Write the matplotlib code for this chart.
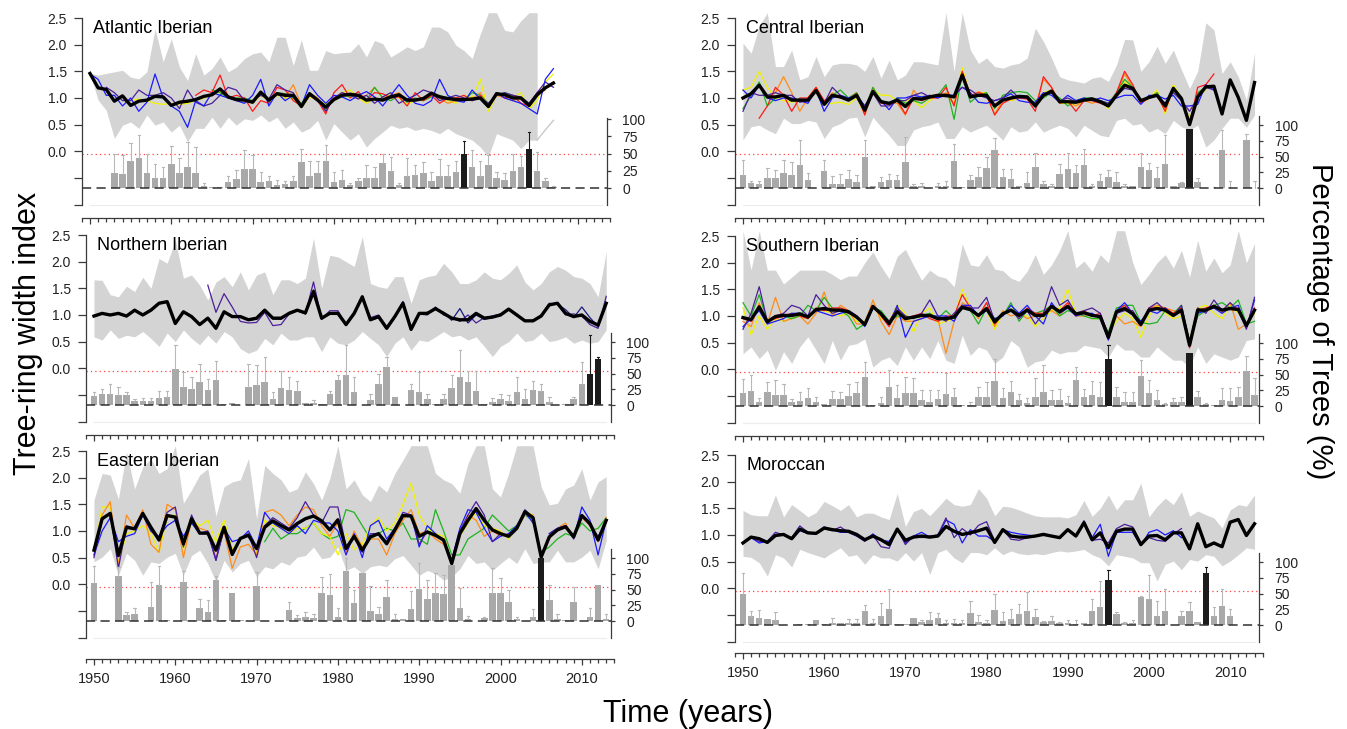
import numpy as np
import matplotlib
matplotlib.use("Agg")
import matplotlib.pyplot as plt

plt.rcParams['font.family'] = ['Liberation Sans', 'DejaVu Sans']

years = list(range(1950, 2014))
atl_years = list(range(1950, 2008))
atl_band_years = list(range(1950, 2006))

# ---------------- Atlantic Iberian ----------------
atl_mean = [1.46, 1.19, 1.16, 0.94, 1.04, 0.86, 0.94, 0.96, 1.03, 1.02,
            0.86, 0.92, 0.94, 0.97, 1.03, 1.06, 1.17, 1.02, 0.97, 0.96,
            0.92, 1.11, 0.96, 1.08, 1.05, 1.05, 0.84, 1.08, 0.96, 0.83,
            0.97, 1.05, 1.07, 1.05, 0.96, 0.98, 0.96, 1.02, 1.06, 0.96,
            0.96, 0.99, 1.09, 1.02, 0.99, 0.97, 0.97, 0.98, 1.00, 0.84,
            1.08, 1.06, 1.00, 1.00, 0.86, 1.06, 1.19, 1.28]
atl_hi = [1.46, 1.43, 1.46, 1.49, 1.52, 1.39, 1.36, 1.49, 2.30, 1.68,
          2.11, 1.58, 1.33, 1.83, 1.43, 1.55, 1.77, 1.49, 1.58, 1.74,
          1.83, 1.86, 1.68, 2.14, 2.14, 1.61, 2.09, 1.52, 1.52, 1.89,
          1.83, 1.85, 1.86, 2.02, 1.77, 2.08, 2.02, 1.77, 1.86, 1.96,
          1.89, 1.96, 2.33, 2.33, 2.24, 1.99, 1.89, 1.74, 2.20, 2.60,
          2.60, 2.27, 2.24, 2.45, 2.60, 2.60]
atl_lo = [1.46, 0.96, 0.77, 0.24, 0.49, 0.55, 0.43, 0.68, 0.49, 0.55,
          0.36, 0.49, 0.18, 0.43, 0.43, 0.64, 0.43, 0.64, 0.49, 0.61,
          0.58, 0.68, 0.55, 0.64, 0.43, 0.55, 0.36, 0.43, 0.58, 0.21,
          0.52, 0.36, 0.21, 0.33, 0.08, 0.24, 0.36, 0.49, 0.43, 0.46,
          0.39, 0.43, 0.39, 0.33, 0.43, 0.33, 0.27, 0.21, 0.08, -0.10,
          0.33, 0.27, 0.21, 0.05, 0.21, 0.21]
atl_pct = [0, 0, 0, 22, 20, 39, 44, 22, 14, 15,
           35, 22, 31, 22, 3, 1, 1, 9, 13, 27,
           27, 9, 10, 4, 6, 10, 38, 17, 22, 39,
           9, 11, 5, 10, 14, 15, 36, 25, 5, 18,
           19, 22, 10, 17, 17, 23, 50, 30, 18, 34,
           14, 12, 25, 30, 57, 25, 10, 2]
atl_pct_hi = [0, 0, 0, 50, 48, 65, 77, 50, 35, 31,
              61, 43, 67, 60, 7, 2, 2, 17, 26, 55,
              48, 23, 18, 11, 10, 18, 57, 40, 40, 62,
              23, 26, 8, 15, 33, 30, 50, 45, 8, 44,
              33, 38, 24, 42, 33, 40, 68, 55, 40, 48,
              24, 22, 50, 47, 82, 52, 15, 3]
atl_black = [1996, 2004]
atl_blue = [1.45, 1.35, 1.05, 1.05, 0.85, 1.0, 0.75, 0.92, 1.45, 1.0,
            0.85, 0.75, 0.45, 0.95, 0.85, 1.1, 1.05, 1.0, 0.95, 0.9,
            1.05, 1.35, 0.85, 1.1, 0.95, 1.05, 0.85, 1.25, 1.05, 0.9,
            1.05, 1.02, 0.95, 1.05, 1.12, 1.02, 0.85, 1.05, 1.25, 1.05,
            0.9, 0.86, 0.95, 1.35, 1.05, 0.95, 0.92, 1.15, 0.98, 0.82,
            1.1, 1.0, 0.95, 0.9, 0.8, 0.7, 1.35, 1.55]
atl_purple = [None, None, 1.2, 1.1, 0.95, 0.95, 1.15, 1.05, 1.05, 1.1,
              1.0, 0.8, 1.15, 0.92, 0.85, 0.9, 1.05, 1.2, 1.15, 0.95,
              0.95, 1.05, 0.98, 1.25, 1.15, 1.1, 0.85, 1.05, 0.97, 0.75,
              1.0, 1.1, 1.05, 0.98, 1.05, 0.9, 1.02, 1.1, 0.9, 0.98,
              1.05, 1.15, 1.1, 0.95, 1.0, 1.05, 1.0, 0.95, 1.0, 0.9,
              1.05, 1.1, 1.05, 1.02, 0.9, 1.1, 1.3, 1.2]
atl_red = [None] * 13 + [1.05, 1.15, 1.1, 1.43, 1.0, 1.05, 1.0,
                         0.75, 0.95, 0.9, 1.2, 1.15, 0.95, 0.85, 1.05, 0.95, 0.7,
                         1.1, 1.25, 1.0, 1.12, 0.95, 1.1, 1.08, 1.0, 1.02, 0.85,
                         1.1, 0.95, 1.05, 0.9, 1.0, 1.0, 1.05, 0.95, 1.05, 0.85,
                         1.1, 1.0, 1.05, 0.9, 0.85, 1.1, 1.2, 1.3]
atl_yellow = [None] * 4 + [0.95, 0.95, 0.98, 0.95, 0.9, 0.88,
                           0.9, 0.88, 0.9, 0.95, 1.0, 1.05, 1.12, 1.0, 0.98, 0.95,
                           0.9, 1.05, 0.95, 1.05, 1.0, 1.0, 0.82, 1.02, 0.95, 0.88,
                           0.95, 1.1, 1.15, 1.0, 0.9, 1.0, 0.95, 1.1, 1.0, 0.88,
                           0.95, 1.0, 1.05, 1.05, 0.95, 0.9, 1.05, 1.0, 1.35, 0.75,
                           1.05, 1.05, 1.0, 1.1, 0.8, 0.95, 1.3, 1.45]
atl_green = [None] * 15 + [1.15, 1.1, 1.0, 1.0, 1.0,
                           0.95, 1.1, 0.92, 1.1, 1.08, 1.0, 0.9, 1.1, 0.95, 0.78,
                           1.0, 1.05, 1.02, 1.05, 0.95, 1.2, 1.0, 0.95, 1.05, 0.92,
                           1.0, 0.95, 1.02, 1.05, 1.0, 1.0, 0.95, 1.1, 1.05, 0.9,
                           1.05, 1.1, 1.05, 1.0, 0.9, 1.05, None, None]
atl_orange = [None] * 24 + [1.0, 1.25, 0.85, 1.1, 1.0, 0.8,
                            1.0, 1.1, 1.05, 1.0, 1.05, 1.2, 1.0, 1.05, 1.1, 0.95,
                            0.97, 0.95, 1.05, 1.0, 0.9, 0.95, 1.0, 0.98, 1.1, 0.85,
                            1.05, 1.0, 0.95, 1.0, 0.85, 1.05, 1.15, None]
atl_tail = [None] * 55 + [0.21, 0.40, 0.58]

# ---------------- Central Iberian ----------------
cen_mean = [1.00, 1.08, 1.24, 1.02, 1.02, 1.05, 0.96, 0.96, 0.96, 1.14,
            0.88, 1.05, 1.02, 0.96, 1.05, 0.77, 1.12, 0.93, 0.90, 0.96,
            0.84, 0.99, 0.98, 1.02, 1.05, 1.05, 1.02, 1.43, 1.02, 1.05,
            1.05, 0.85, 0.96, 1.00, 1.03, 1.02, 0.85, 1.05, 1.13, 0.93,
            0.93, 0.92, 0.96, 0.98, 0.93, 0.85, 1.05, 1.24, 1.18, 0.95,
            1.01, 1.05, 0.85, 1.18, 0.99, 0.50, 1.02, 1.21, 1.22, 0.70,
            1.34, 1.01, 0.58, 1.29]
cen_hi = [2.03, 1.84, 2.35, 2.60, 1.59, 1.59, 1.90, 1.34, 1.40, 1.78,
          1.40, 1.62, 1.65, 1.65, 1.62, 1.50, 1.78, 1.37, 1.71, 1.34,
          1.43, 1.68, 1.68, 1.65, 1.62, 2.60, 1.50, 2.60, 1.90, 1.65,
          1.75, 1.59, 1.56, 1.62, 1.65, 1.75, 2.31, 2.06, 1.75, 1.40,
          1.34, 1.31, 1.28, 1.37, 1.40, 1.31, 1.62, 2.10, 2.09, 1.50,
          1.68, 1.97, 1.65, 1.90, 1.53, 1.18, 1.50, 2.41, 2.28, 1.46,
          1.68, 1.40, 0.96, 1.84]
cen_lo = [0.21, 0.46, 0.49, 0.40, 0.33, 0.62, 0.52, 0.52, 0.58, 0.55,
          0.24, 0.46, 0.52, 0.62, 0.64, 0.27, 0.64, 0.46, 0.30, 0.11,
          0.11, 0.40, 0.46, 0.49, 0.55, 0.24, 0.24, 0.46, 0.36, 0.43,
          0.49, 0.36, 0.21, 0.46, 0.36, 0.39, 0.55, 0.36, 0.43, 0.49,
          0.43, 0.27, 0.49, 0.39, 0.30, 0.27, 0.58, 0.62, 0.49, 0.52,
          0.36, 0.43, 0.33, 0.58, 0.46, 0.40, 0.49, 0.08, 0.21, 0.43,
          0.62, 0.62, 0.45, 0.68]
cen_pct = [20, 8, 6, 16, 16, 24, 21, 37, 13, 0,
           27, 7, 7, 15, 10, 50, 3, 10, 13, 13,
           41, 4, 4, 0, 3, 4, 43, 2, 13, 18,
           32, 61, 18, 14, 3, 8, 33, 6, 4, 22,
           30, 24, 37, 4, 12, 17, 10, 4, 4, 33,
           28, 16, 38, 3, 8, 94, 10, 0, 0, 60,
           0, 0, 77, 0]
cen_pct_hi = [44, 12, 11, 32, 28, 45, 41, 76, 24, 0,
              44, 19, 23, 28, 20, 76, 3, 17, 23, 20,
              81, 6, 8, 0, 8, 12, 70, 2, 20, 34,
              49, 80, 31, 30, 3, 25, 55, 12, 6, 39,
              55, 36, 62, 6, 23, 28, 25, 6, 4, 55,
              40, 33, 84, 3, 10, 94, 16, 0, 2, 92,
              12, 0, 86, 12]
cen_black = [2005]
cen_yellow = [1.15, 1.2, 1.5, 1.2, 1.0, 0.95, 0.92, 0.95, 0.95, 1.2,
              0.88, 0.9, 0.92, 0.88, 1.0, 0.7, 1.15, 1.05, 1.05, 0.95,
              0.95, 0.95, 0.82, 0.95, 1.05, 1.05, 0.9, 1.57, 1.05, 1.1,
              1.1, 0.8, 1.0, 0.95, 1.0, 1.0, 0.85, 1.1, 1.15, 0.9,
              0.9, 0.85, 0.95, 1.0, 0.95, 0.8, 1.1, 1.3, 1.2, 0.9,
              1.0, 1.15, 0.7, 1.25, 1.0, 0.6, 1.05, 1.15, None, None,
              None, None, None, None]
cen_red = [None, None, 0.62, 0.85, 1.2, 1.05, 0.75, 1.0, 1.0, 1.2,
           0.95, 1.05, 1.0, 0.98, 1.08, 0.68, 1.15, 0.9, 0.88, 0.95,
           0.7, 1.0, 0.95, 1.0, 1.0, 1.2, 0.85, 1.5, 1.05, 1.1,
           1.05, 0.68, 0.9, 0.98, 1.0, 0.98, 0.75, 1.4, 1.2, 0.9,
           0.95, 0.75, 0.95, 0.95, 0.9, 0.85, 1.1, 1.5, 1.25, 0.9,
           1.0, 1.05, 0.75, 1.2, 1.0, 0.5, 1.2, 1.25, 1.45, None,
           None, None, None, None]
cen_green = [0.8, 1.05, 1.3, 0.85, 1.0, 1.05, 0.95, 0.98, 0.95, 1.15,
             0.92, 1.05, 1.15, 1.0, 1.1, 0.8, 1.2, 0.95, 0.9, 1.0,
             0.9, 0.95, 0.9, 1.0, 1.05, 1.25, 0.6, 1.45, 0.92, 1.05,
             1.1, 0.8, 1.05, 1.1, 1.12, 1.1, 0.95, 1.0, 1.1, 1.0,
             0.85, 0.95, 1.0, 1.0, 0.95, 0.9, 1.1, 1.35, 1.2, 0.95,
             1.0, 1.1, 0.85, 1.2, 0.95, 0.55, 1.1, 1.2, None, None,
             None, None, None, None]
cen_blue = [1.15, 1.0, 1.25, 1.0, 0.95, 1.0, 1.0, 0.95, 0.9, 1.15,
            0.75, 1.0, 1.05, 1.0, 1.05, 0.85, 1.1, 0.95, 0.78, 1.0,
            1.0, 1.05, 1.02, 1.05, 1.0, 1.05, 1.05, 1.2, 1.1, 0.92,
            0.9, 0.95, 1.0, 1.08, 0.95, 0.92, 0.92, 1.1, 1.05, 0.92,
            1.05, 0.95, 1.0, 0.95, 1.0, 0.95, 1.0, 1.05, 1.05, 0.88,
            1.05, 1.05, 0.98, 1.05, 0.85, 0.85, 0.88, 1.25, 1.15, None,
            None, None, None, None]
cen_purple = [0.75, 1.1, 1.05, 1.05, 1.1, 1.05, 1.05, 0.92, 0.95, 1.15,
              0.9, 1.2, 1.05, 0.98, 1.05, 0.85, 1.1, 0.85, 0.85, 0.95,
              0.95, 1.05, 1.1, 1.02, 1.05, 1.02, 1.05, 1.2, 1.15, 1.05,
              1.0, 0.95, 1.0, 1.15, 1.0, 1.0, 0.9, 1.05, 1.1, 0.95,
              1.0, 0.92, 0.98, 1.0, 0.95, 0.9, 1.05, 1.18, 1.15, 0.95,
              1.0, 1.05, 0.9, 1.1, 0.95, 0.75, 1.0, 1.2, 1.15, None,
              None, None, None, None]
cen_orange = [None, None, None, 1.0, 1.1, 1.4, 1.1, 0.75, 1.0, 1.2,
              0.9, 1.1, 1.0, 0.95, 1.1, 0.72, 1.2, 0.92, 0.9, 0.9,
              0.68, 1.15, 0.95, 1.05, 1.0, 1.1, 0.88, 1.5, 1.0, 1.12,
              1.05, 0.7, 0.95, 1.0, 1.0, 1.0, 0.85, 1.35, 1.2, 0.92,
              0.95, 0.85, 0.95, 0.9, 0.95, 0.85, 1.05, 1.45, 1.2, 0.9,
              1.0, 1.1, 0.8, 1.15, 1.0, 0.55, 1.1, 1.2, None, None,
              None, None, None, None]

# ---------------- Northern Iberian ----------------
nor_mean = [0.98, 1.03, 1.00, 1.03, 0.98, 1.09, 1.00, 1.09, 1.22, 1.25,
            0.84, 1.06, 0.97, 0.82, 0.94, 0.75, 1.06, 0.97, 0.97, 0.91,
            0.94, 1.09, 0.94, 0.94, 1.03, 1.09, 1.04, 1.44, 0.94, 1.03,
            1.03, 0.82, 1.03, 1.34, 0.91, 0.97, 0.75, 0.97, 1.22, 0.73,
            1.03, 1.03, 1.12, 1.03, 0.94, 0.91, 0.91, 1.03, 0.94, 0.96,
            1.00, 1.11, 1.00, 0.89, 0.89, 0.98, 1.19, 1.22, 1.03, 0.97,
            1.00, 0.88, 0.81, 1.22]
nor_hi = [1.66, 1.65, 1.38, 1.34, 1.54, 1.44, 1.71, 1.50, 2.06, 1.97,
          2.40, 1.69, 1.75, 1.56, 1.28, 1.62, 1.72, 1.53, 1.81, 1.47,
          1.75, 1.81, 1.38, 1.66, 1.66, 1.59, 1.69, 2.44, 1.50, 2.12,
          2.09, 2.00, 1.91, 2.47, 1.59, 1.53, 1.50, 1.72, 1.72, 1.22,
          1.66, 1.72, 1.75, 1.97, 1.81, 1.59, 1.59, 1.66, 1.81, 1.69,
          1.66, 1.78, 1.94, 1.62, 1.47, 1.59, 1.81, 1.91, 1.84, 1.72,
          1.69, 1.59, 1.34, 2.19]
nor_lo = [0.59, 0.53, 0.72, 0.56, 0.62, 0.59, 0.69, 0.56, 0.41, 0.66,
          0.50, 0.72, 0.56, 0.44, 0.62, 0.47, 0.69, 0.59, 0.37, 0.28,
          0.34, 0.56, 0.44, 0.66, 0.53, 0.53, 0.59, 0.59, 0.31, 0.59,
          0.47, 0.44, 0.53, 0.69, 0.56, 0.44, 0.22, 0.47, 0.59, 0.34,
          0.53, 0.50, 0.59, 0.69, 0.59, 0.62, 0.53, 0.59, 0.41, 0.22,
          0.41, 0.50, 0.66, 0.50, 0.53, 0.66, 0.50, 0.53, 0.59, 0.47,
          0.53, 0.47, 0.50, 0.72]
nor_pct = [15, 17, 17, 16, 16, 7, 7, 7, 12, 13,
           57, 29, 26, 36, 24, 40, 2, 3, 0, 28,
           32, 36, 10, 27, 24, 22, 3, 3, 1, 18,
           40, 47, 21, 0, 8, 33, 60, 13, 0, 24,
           21, 9, 1, 9, 27, 45, 37, 22, 2, 5,
           9, 6, 20, 9, 24, 22, 5, 0, 1, 9,
           33, 49, 74, 0]
nor_pct_hi = [20, 26, 34, 28, 21, 9, 11, 12, 22, 23,
              95, 52, 45, 65, 41, 70, 2, 3, 0, 65,
              64, 77, 20, 54, 44, 39, 3, 8, 1, 23,
              47, 95, 44, 0, 18, 49, 76, 13, 0, 33,
              52, 18, 1, 18, 47, 87, 54, 54, 2, 12,
              17, 16, 45, 26, 38, 34, 13, 0, 2, 13,
              69, 112, 77, 0]
nor_black = [2011, 2012]
nor_navy = [0.97, 1.02, 1.0, 1.02, 0.97, 1.08, 0.99, 1.08, 1.21, 1.24,
            0.85, 1.05, 0.96, 0.83, 0.93, 0.74, 1.05, 0.96, 0.98, 0.9,
            0.92, 1.1, 0.93, 0.92, 1.05, 1.1, 1.02, 1.47, 0.92, 1.03,
            1.05, 0.8, 1.02, 1.36, 0.9, 0.95, 0.74, 0.96, 1.25, 0.72,
            1.02, 1.05, 1.1, 1.05, 0.9, 1.12, 0.85, 1.0, 0.92, 0.95,
            1.0, 1.12, 1.02, 0.88, 0.9, 0.98, 1.2, 1.2, 1.1, 0.95,
            1.15, 0.95, 0.78, 1.2]
nor_purple = [None] * 14 + [1.56, 1.05, 1.4, 1.15, 0.88, 0.85,
                            0.86, 1.05, 0.8, 0.82, 1.02, 1.08, 1.02, 1.62, 0.92, 1.08,
                            1.08, 0.82, 1.05, 1.3, 0.95, 1.0, 0.78, 0.98, 1.25, 0.75,
                            1.02, 1.0, 1.15, 1.0, 0.95, 0.88, 1.0, 0.85, 0.95, 0.98,
                            1.02, 1.1, 1.0, 0.88, 0.9, 1.0, 1.22, 1.2, 1.0, 1.02,
                            0.98, 0.82, 0.75, 1.35]

# ---------------- Southern Iberian ----------------
sou_mean = [0.97, 0.93, 1.17, 0.89, 0.99, 1.01, 1.01, 1.04, 0.98, 1.12,
            1.14, 1.11, 1.11, 1.08, 0.98, 0.84, 1.18, 1.04, 0.86, 1.08,
            0.95, 0.98, 1.01, 1.01, 0.95, 0.95, 0.98, 1.16, 1.12, 1.01,
            1.14, 0.89, 1.04, 1.11, 1.01, 1.11, 1.01, 1.01, 1.18, 1.08,
            1.18, 1.04, 1.06, 1.01, 0.99, 0.60, 1.08, 1.14, 1.04, 0.84,
            1.11, 1.14, 1.11, 1.01, 1.11, 0.45, 1.11, 1.11, 1.18, 1.11,
            1.14, 1.12, 0.82, 1.11]
sou_hi = [2.60, 1.86, 2.60, 1.86, 1.86, 1.60, 1.73, 1.86, 1.86, 1.86,
          1.86, 1.78, 1.68, 1.75, 1.75, 2.00, 2.20, 1.93, 1.70, 2.12,
          2.25, 1.95, 1.67, 1.86, 1.75, 1.71, 1.55, 2.35, 1.96, 1.93,
          2.15, 1.88, 1.85, 1.71, 1.65, 1.84, 2.15, 1.78, 1.96, 2.23,
          2.60, 1.90, 2.03, 1.84, 2.15, 2.00, 2.60, 2.60, 2.00, 1.59,
          1.78, 2.00, 2.15, 1.90, 2.23, 1.73, 2.42, 1.84, 2.09, 1.81,
          1.96, 2.60, 2.00, 2.36]
sou_lo = [0.29, 0.42, 0.20, 0.36, -0.02, 0.33, 0.11, 0.42, 0.61, 0.36,
          0.11, 0.54, 0.17, 0.45, 0.48, 0.57, 0.04, 0.17, 0.23, 0.07,
          0.42, 0.17, 0.42, 0.20, 0.54, 0.17, 0.11, 0.64, 0.26, 0.42,
          0.36, 0.11, 0.23, 0.54, 0.42, 0.04, 0.14, 0.17, 0.36, 0.29,
          0.33, 0.33, 0.45, 0.42, 0.39, 0.23, 0.48, 0.36, 0.36, 0.23,
          0.23, 0.42, 0.29, 0.17, 0.17, 0.04, 0.42, 0.11, 0.29, 0.23,
          0.17, 0.23, 0.54, 0.57]
sou_pct = [21, 24, 6, 22, 18, 18, 6, 8, 13, 7,
           3, 12, 11, 16, 20, 46, 1, 5, 30, 13,
           20, 20, 9, 7, 11, 19, 14, 1, 2, 15,
           15, 40, 13, 22, 9, 5, 15, 23, 9, 9,
           5, 41, 14, 18, 14, 75, 14, 7, 7, 47,
           20, 10, 3, 7, 6, 84, 14, 3, 1, 10,
           8, 14, 55, 18]
sou_pct_hi = [43, 49, 13, 39, 42, 35, 11, 22, 29, 15,
              3, 24, 23, 35, 39, 70, 1, 14, 58, 34,
              46, 44, 26, 26, 26, 52, 28, 1, 6, 31,
              39, 75, 29, 40, 19, 13, 44, 66, 26, 27,
              16, 62, 27, 40, 38, 97, 31, 22, 22, 74,
              42, 26, 5, 13, 14, 84, 24, 5, 1, 29,
              29, 30, 80, 44]
sou_black = [1995, 2005]
sou_yellow = [1.15, 0.65, 1.0, 0.75, 0.95, 0.9, 0.95, 1.0, 0.95, 1.1,
              1.1, 1.05, 1.0, 1.05, 0.9, 0.9, 1.2, 0.95, 0.9, 1.2,
              1.05, 0.7, 1.05, 1.15, 0.85, 0.9, 0.95, 1.5, 1.15, 1.0,
              1.1, 0.75, 1.05, 1.2, 1.0, 1.0, 0.8, 0.95, 1.1, 1.15,
              1.5, 1.05, 1.1, 0.95, 0.95, 0.7, 0.9, 1.05, 0.95, 0.6,
              1.0, 1.2, 1.05, 0.95, 1.0, 0.55, 1.15, 1.2, 1.05, 0.95,
              1.2, 1.05, 0.85, 1.05]
sou_orange = [0.9, 0.8, 1.25, 0.85, 1.35, 0.9, 0.95, 1.0, 0.85, 1.05,
              1.45, 1.0, 1.2, 1.1, 0.85, 0.85, 1.3, 0.9, 0.65, 1.0,
              0.9, 0.9, 0.95, 1.05, 0.95, 0.3, 0.9, 1.25, 1.15, 0.95,
              1.25, 0.8, 1.1, 1.0, 1.05, 0.95, 1.0, 1.05, 1.1, 1.0,
              1.2, 1.0, 1.0, 1.05, 0.95, 0.65, 1.0, 0.85, 0.9, 0.8,
              1.15, 1.2, 1.15, 1.1, 1.05, 0.5, 1.15, 1.1, 1.2, 1.05,
              1.25, 0.75, 0.85, 1.1]
sou_red = [0.95, 0.9, 1.2, 0.9, 0.95, 1.0, 1.05, 1.0, 0.95, 1.15,
           1.1, 1.15, 1.15, 1.1, 1.0, 0.85, 1.2, 1.0, 0.8, 1.1,
           0.95, 1.0, 1.05, 0.95, 0.9, 1.0, 1.0, 1.4, 1.15, 1.0,
           1.25, 0.85, 1.05, 1.1, 1.0, 1.15, 1.05, 1.05, 1.2, 1.1,
           1.25, 1.0, 1.1, 1.0, 1.05, 0.55, 1.1, 1.2, 1.05, 0.85,
           1.15, 1.15, 1.15, 1.05, 1.15, 0.4, 1.1, 1.15, 1.2, 1.1,
           1.15, 1.15, 0.8, 1.15]
sou_green = [1.25, 1.0, 1.4, 0.9, 1.0, 1.0, 0.95, 1.0, 1.2, 1.1,
             1.35, 1.15, 1.1, 1.0, 0.75, 0.85, 1.15, 1.1, 0.9, 1.0,
             1.0, 0.95, 1.0, 1.05, 0.95, 1.1, 0.95, 1.15, 1.1, 0.85,
             1.15, 0.95, 1.0, 1.25, 0.9, 1.1, 1.05, 1.1, 1.2, 1.0,
             1.1, 1.05, 1.0, 0.95, 0.95, 0.7, 1.15, 1.2, 1.2, 0.88,
             0.85, 0.88, 1.1, 1.05, 1.2, 0.5, 1.0, 1.1, 1.2, 1.25,
             1.15, 1.3, 0.85, 0.9]
sou_blue = [0.8, 0.95, 1.1, 0.85, 0.9, 0.95, 1.05, 1.05, 1.0, 1.1,
            1.05, 1.0, 1.05, 1.1, 1.0, 0.8, 1.15, 1.05, 0.85, 1.2,
            0.6, 0.9, 0.95, 1.0, 1.0, 1.0, 0.9, 1.2, 1.2, 1.0,
            1.1, 0.95, 1.0, 1.2, 1.05, 1.2, 1.0, 0.85, 1.25, 1.05,
            1.15, 1.0, 1.05, 1.05, 0.95, 0.55, 1.1, 1.25, 1.05, 0.9,
            1.1, 1.05, 1.15, 1.0, 1.1, 0.45, 1.05, 1.1, 1.15, 1.05,
            1.15, 1.2, 0.78, 1.3]
sou_purple = [0.75, 1.05, 1.55, 0.9, 1.0, 1.05, 1.2, 1.15, 1.0, 1.4,
              1.2, 1.05, 1.1, 1.05, 1.0, 0.85, 1.15, 1.05, 0.9, 1.15,
              1.0, 0.95, 1.05, 1.3, 1.0, 0.9, 1.05, 1.2, 1.15, 1.15,
              1.35, 0.9, 1.05, 1.1, 0.95, 1.1, 0.85, 1.05, 1.55, 1.2,
              1.3, 1.05, 1.1, 1.15, 1.05, 0.65, 1.05, 1.1, 1.1, 0.85,
              1.15, 1.25, 1.1, 1.0, 1.2, 0.5, 1.15, 1.05, 1.3, 1.1,
              1.25, 1.1, 0.75, 1.35]

# ---------------- Eastern Iberian ----------------
eas_mean = [0.64, 1.23, 1.33, 0.54, 1.07, 1.04, 1.33, 1.07, 0.83, 1.29,
            1.26, 0.76, 1.23, 0.96, 0.96, 0.64, 1.07, 0.56, 0.86, 0.92,
            0.67, 1.07, 1.19, 1.10, 1.02, 1.14, 1.23, 1.28, 1.19, 1.02,
            1.21, 0.67, 0.90, 0.64, 0.89, 0.95, 0.76, 1.02, 1.29, 1.28,
            0.90, 0.98, 0.92, 0.83, 0.39, 0.95, 1.20, 1.42, 1.20, 1.02,
            0.95, 0.90, 1.05, 1.36, 1.25, 0.51, 0.89, 1.02, 1.08, 0.89,
            1.29, 1.14, 0.83, 1.20]
eas_hi = [1.58, 2.08, 2.05, 1.60, 2.48, 1.79, 2.20, 2.36, 2.08, 2.17,
          2.60, 1.52, 1.77, 2.05, 2.17, 1.28, 1.83, 1.92, 1.96, 2.36,
          1.23, 2.23, 2.08, 1.96, 1.73, 1.79, 2.11, 1.89, 1.58, 1.98,
          2.60, 1.79, 1.96, 1.68, 1.55, 1.86, 1.73, 2.08, 2.33, 2.60,
          2.60, 2.60, 2.08, 1.96, 1.89, 1.71, 2.27, 2.60, 2.60, 1.79,
          1.64, 2.08, 2.60, 2.60, 2.60, 1.83, 1.49, 1.52, 1.79, 1.86,
          2.17, 1.58, 1.92, 2.02]
eas_lo = [0.42, 0.51, 0.67, 0.17, 0.58, 0.45, 0.17, 0.42, 0.39, 0.51,
          0.58, 0.17, 0.54, 0.64, 0.39, 0.04, 0.45, 0.23, 0.39, 0.45,
          0.14, 0.33, 0.29, 0.42, 0.36, 0.51, 0.54, 0.70, 0.48, 0.51,
          0.70, 0.26, 0.33, 0.20, 0.33, 0.36, 0.33, 0.48, 0.54, 0.36,
          0.17, 0.26, 0.20, 0.08, 0.14, 0.29, 0.54, 0.39, 0.42, 0.26,
          0.39, 0.51, 0.39, 0.67, 0.39, 0.42, 0.42, 0.64, 0.42, 0.42,
          0.51, 0.64, 0.29, 0.82]
eas_pct = [61, 0, 0, 72, 9, 12, 0, 23, 58, 1,
           0, 62, 2, 20, 14, 66, 1, 44, 1, 0,
           55, 0, 0, 0, 18, 5, 6, 5, 45, 42,
           7, 79, 28, 77, 16, 12, 39, 3, 3, 19,
           51, 35, 44, 43, 89, 20, 3, 0, 5, 44,
           45, 31, 3, 0, 7, 100, 33, 4, 2, 31,
           0, 7, 57, 4]
eas_pct_hi = [88, 0, 0, 86, 14, 20, 0, 62, 88, 1,
              0, 80, 2, 35, 34, 72, 1, 44, 1, 0,
              78, 0, 0, 0, 30, 10, 14, 12, 70, 75,
              20, 100, 50, 77, 55, 23, 65, 12, 3, 47,
              92, 66, 77, 73, 89, 52, 8, 0, 6, 84,
              68, 49, 6, 0, 19, 100, 57, 12, 2, 54,
              0, 20, 57, 12]
eas_black = [2005]
eas_orange = [0.55, 1.3, 1.55, 0.35, 1.3, 1.05, 1.4, 0.75, 0.6, 1.5,
              1.4, 0.5, 1.2, 1.05, 1.0, 0.5, 1.0, 0.3, 0.7, 0.75,
              0.55, 1.35, 1.4, 1.3, 1.1, 1.3, 1.45, 1.4, 1.1, 0.9,
              1.15, 0.6, 1.0, 0.7, 0.85, 0.85, 0.55, 0.95, 1.2, 1.4,
              0.95, 1.0, 0.85, 0.75, 0.45, 0.9, 1.3, 1.2, 0.9, 1.0,
              0.9, 0.95, 1.05, 1.3, 1.3, None, 0.85, 1.05, 1.15, 0.85,
              1.25, 1.1, 0.8, 1.25]
eas_yellow = [0.6, 1.45, 1.45, 0.4, 0.95, 1.0, 1.1, 0.95, 0.6, 1.25,
              1.3, 0.65, 1.2, 1.1, 1.2, 0.8, 1.2, 0.65, 0.85, 0.95,
              0.6, 1.2, 1.1, 1.05, 0.95, 1.05, 1.05, 1.15, 0.95, 0.9,
              0.55, 0.95, 0.65, 0.75, 1.1, 1.25, 1.0, 1.15, 1.5, 1.9,
              1.3, 1.05, 0.95, 0.9, 0.45, 0.9, 1.15, 1.35, 1.1, 1.05,
              1.0, 0.85, 1.1, 1.35, 1.3] + [None] * 9
eas_blue = [0.55, 1.0, 1.25, 0.8, 0.9, 0.95, 1.3, 1.0, 0.9, 1.1,
            1.2, 0.9, 1.15, 0.95, 1.0, 0.45, 1.05, 0.8, 0.85, 1.0,
            0.7, 1.35, 1.15, 1.05, 0.95, 1.1, 0.95, 1.2, 1.15, 1.15,
            1.0, 0.55, 0.95, 0.5, 1.1, 1.2, 0.85, 1.05, 1.3, 1.3,
            0.7, 1.1, 0.95, 0.8, 0.45, 1.05, 1.4, 1.35, 1.05, 0.8,
            0.9, 0.95, 1.1, 1.35, 1.15, None, 0.95, 1.05, 1.1, 0.85,
            1.45, 1.2, 0.55, 1.2]
eas_purple = [0.5, 1.2, 1.35, 0.3, 1.1, 1.05, 1.35, 1.0, 0.85, 1.35,
              1.45, 0.7, 1.3, 0.95, 0.95, 0.45, 1.05, 0.55, 0.85, 0.95,
              0.5, 1.1, 1.25, 1.15, 1.05, 1.25, 1.55, 1.3, 1.15, 1.45,
              1.45, 0.7, 0.9, 0.6, 0.95, 0.95, 0.8, 1.05, 1.35, 1.3,
              0.75, 1.0, 0.9, 0.85, 0.45, 1.0, 1.3, 1.55, 1.3, 0.8,
              0.95, 0.9, 1.05, 1.4, 1.25, None, 0.95, 1.05, 1.1, 0.9,
              1.3, 1.1, 0.9, 1.15]
eas_green = [None] * 21 + [0.8, 1.05, 0.85, 0.95, 0.95, 1.05, 1.15, 0.95, 0.85,
                           0.9, 1.4, 1.35, 1.1, 0.85, 0.95, 1.05, 1.0, 1.15, 0.85,
                           0.85, 0.75, 1.4, 1.0, 0.55, 0.55, 0.85, 0.95, 1.05, 1.3,
                           1.15, 1.0, 1.1, 1.3, 1.2, 0.6, 0.7, 0.85, 0.95, 0.9,
                           1.15, 1.0, 1.05, 1.25]

# ---------------- Moroccan ----------------
mor_mean = [0.85, 0.96, 0.93, 0.86, 0.99, 1.01, 0.93, 1.11, 1.04, 1.03,
            1.13, 1.10, 1.08, 1.07, 1.01, 0.91, 0.98, 0.91, 0.82, 1.11,
            0.90, 0.96, 0.98, 0.96, 0.98, 1.16, 1.07, 1.01, 1.04, 1.08,
            1.13, 0.86, 1.10, 0.98, 0.96, 0.96, 0.98, 1.01, 0.98, 0.95,
            1.10, 0.98, 1.23, 0.91, 1.04, 0.76, 1.07, 1.11, 1.11, 0.82,
            0.98, 0.99, 0.91, 1.04, 1.04, 0.74, 1.21, 0.78, 0.85, 0.78,
            1.24, 1.29, 0.99, 1.21]
mor_hi = [1.46, 1.38, 1.36, 1.36, 1.75, 1.34, 1.57, 1.46, 1.34, 1.42,
          1.63, 1.55, 1.46, 1.57, 1.34, 1.41, 1.41, 1.34, 1.29, 1.78,
          1.16, 1.44, 1.50, 1.36, 1.52, 1.69, 1.57, 1.54, 1.57, 1.87,
          1.69, 1.36, 1.54, 1.52, 1.47, 1.41, 1.36, 1.34, 1.34, 1.34,
          1.32, 1.38, 1.65, 1.35, 1.50, 1.75, 1.47, 1.66, 1.66, 1.97,
          1.34, 1.54, 1.69, 1.57, 1.81, 1.35, 1.45, 1.38, 1.32, 1.13,
          1.47, 1.57, 1.54, 1.75]
mor_lo = [0.60, 0.58, 0.48, 0.23, 0.63, 0.57, 0.40, 0.73, 0.67, 0.62,
          0.57, 0.67, 0.76, 0.60, 0.63, 0.45, 0.63, 0.57, 0.57, 0.51,
          0.67, 0.51, 0.67, 0.26, 0.67, 0.73, 0.57, 0.48, 0.67, 0.67,
          0.63, 0.76, 0.63, 0.70, 0.65, 0.63, 0.65, 0.63, 0.67, 0.70,
          0.68, 0.70, 0.73, 0.63, 0.57, 0.42, 0.63, 0.60, 0.57, 0.48,
          0.48, 0.14, 0.45, 0.51, 0.35, 0.54, 0.51, 0.63, 0.60, 0.42,
          0.51, 0.63, 0.76, 0.73]
mor_pct = [50, 14, 11, 9, 8, 0, 0, 1, 1, 8,
           1, 4, 4, 3, 3, 23, 3, 15, 26, 1,
           1, 11, 5, 8, 11, 4, 3, 4, 19, 5,
           3, 24, 7, 10, 17, 22, 13, 5, 7, 4,
           3, 2, 3, 23, 28, 72, 18, 3, 3, 44,
           41, 15, 22, 0, 14, 22, 5, 82, 15, 30,
           15, 0, 0, 0]
mor_pct_hi = [82, 22, 24, 9, 20, 0, 0, 1, 1, 8,
              1, 11, 4, 9, 9, 32, 9, 35, 58, 1,
              1, 11, 8, 20, 19, 8, 9, 8, 39, 16,
              8, 49, 20, 26, 33, 53, 25, 7, 15, 5,
              8, 8, 4, 42, 70, 88, 20, 5, 8, 46,
              80, 38, 57, 0, 22, 37, 5, 93, 28, 57,
              25, 0, 0, 0]
mor_black = [1995, 2007]
mor_purple = [0.85, 0.95, 0.88, 0.88, 1.05, 1.0, 0.95, 1.17, 1.05, 1.02,
              1.12, 1.08, 1.15, 1.05, 0.98, 0.88, 1.0, 0.78, 0.75, 1.12,
              0.82, 0.98, 0.95, 0.98, 1.0, 1.32, 0.95, 1.12, 1.0, 1.18,
              1.25, 0.88, 1.1, 0.92, 0.9, 0.95, 0.98, 1.02, 0.98, 0.95,
              1.1, 0.98, 1.27, 0.9, 0.92, 0.85, 1.12, 1.2, 1.15, 0.85,
              0.95, 0.9, 0.88, 1.02, 1.12] + [None] * 9
mor_blue = [0.85, 0.95, 0.85, 0.88, 1.0, 1.02, 0.92, 1.08, 1.03, 1.02,
            1.15, 1.1, 1.05, 1.05, 0.98, 0.9, 1.02, 0.9, 0.88, 1.1,
            0.85, 0.98, 1.05, 0.96, 0.98, 1.28, 1.2, 0.85, 1.1, 0.98,
            0.98, 0.88, 1.1, 1.05, 1.02, 1.0, 0.98, 1.03, 0.98, 0.95,
            1.1, 0.98, 1.25, 0.95, 1.2, 0.6, 1.05, 1.05, 1.05, 0.8,
            1.05, 1.1, 1.0, 1.08, 0.95] + [None] * 9

# ---------------- styling ----------------
BLUE = '#1a1aff'
PURPLE = '#4b1f9a'
NAVY = '#1b1b80'
RED = '#ff1a1a'
YELLOW = '#f2f200'
GREEN = '#1fb41f'
ORANGE = '#ff8c1a'
BAND = '#d4d4d4'
BAR = '#a9a9a9'
WHISK = '#b8b8b8'
AXC = '#3a3a3a'

W, H = 1347, 729
YMIN, YMAX = -1.5, 2.6
PX_UNIT = 53.3
P0 = -0.69   # left-axis value of 0 %


def rect(x0, top, w):
    h = (YMAX - YMIN) * PX_UNIT
    return [x0 / W, 1 - (top + h) / H, w / W, h / H]


def draw_panel(fig, r, title, yrs, mean, band_yrs, hi, lo, pct, pct_hi,
               black, lines, xaxis_at, pscale, ptop, show_years):
    ax = fig.add_axes(r)
    ax.patch.set_visible(False)
    ax.set_xlim(1948.6, 2014.4)
    ax.set_ylim(YMIN, YMAX)

    ax.fill_between(band_yrs, lo, hi, color=BAND, lw=0, zorder=1)
    ax.plot([1950, 2013], [-1.0, -1.0], color='#ececec', lw=0.8, zorder=0)
    ax.plot([1949, 2013.6], [-0.05, -0.05], color='#ff4040', lw=0.9,
            ls=(0, (1, 2.5)), zorder=2)
    for vals, col in lines:
        ax.plot(yrs, np.array(vals, dtype=float), color=col, lw=0.9, zorder=3)
    ax.plot(yrs, mean, color='black', lw=2.4, zorder=5, solid_joinstyle='round')

    ax.text(1950.4, 2.3, title, fontsize=13, ha='left', va='center', zorder=6)

    for s in ['top', 'right']:
        ax.spines[s].set_visible(False)
    ax.spines['left'].set_position(('data', 1949))
    ax.spines['left'].set_bounds(-1.0, 2.5)
    ax.spines['bottom'].set_position(('data', xaxis_at))
    ax.spines['bottom'].set_bounds(1949, 2014)
    for s in ['left', 'bottom']:
        ax.spines[s].set_color(AXC)
        ax.spines[s].set_linewidth(0.9)

    ax.set_yticks(np.arange(-1.0, 2.51, 0.5))
    ax.set_yticklabels(['', '', '0.0', '0.5', '1.0', '1.5', '2.0', '2.5'])
    ax.set_xticks(range(1950, 2011, 10))
    ax.set_xticks(range(1949, 2015), minor=True)
    ax.tick_params(axis='y', length=5.8, width=0.9, color=AXC, labelsize=10,
                   pad=5, labelcolor='#222222')
    ax.tick_params(axis='x', which='major', length=4.2, width=0.9, color=AXC,
                   labelsize=10.5, pad=5, labelbottom=show_years,
                   labelcolor='#222222')
    ax.tick_params(axis='x', which='minor', length=2.9, width=0.9, color=AXC)

    ax2 = ax.twinx()
    ax2.patch.set_visible(False)
    ax2.set_ylim((YMIN - P0) / pscale, (YMAX - P0) / pscale)
    cols = ['#1c1c1c' if y in black else BAR for y in yrs]
    ax2.bar(yrs, pct, width=0.8, color=cols, lw=0, zorder=2)
    for y, b, t in zip(yrs, pct, pct_hi):
        if t > b:
            c = '#1c1c1c' if y in black else WHISK
            ax2.plot([y, y], [b, t], color=c, lw=0.8, zorder=2)
            ax2.plot([y - 0.15, y + 0.15], [t, t], color=c, lw=0.8, zorder=2)
    ax2.plot([1949, 2013.6], [0, 0], color='#303030', lw=1.1,
             ls=(0, (6, 3.5)), zorder=3)

    for s in ['top', 'left', 'bottom']:
        ax2.spines[s].set_visible(False)
    ax2.spines['right'].set_position(('data', 2013.6))
    ax2.spines['right'].set_bounds((-1.0 - P0) / pscale, ptop)
    ax2.spines['right'].set_color(AXC)
    ax2.spines['right'].set_linewidth(0.9)
    ax2.set_yticks([0, 25, 50, 75, 100])
    ax2.tick_params(axis='y', length=3, width=0.9, color=AXC, labelsize=10,
                    pad=8, labelcolor='#222222')
    return ax


fig = plt.figure(figsize=(W / 100, H / 100), dpi=100)

LX, LW = 82.6, 535.0
RX, RW = 731.6, 534.3

draw_panel(fig, rect(LX - 4, 12.7, LW), 'Atlantic Iberian', atl_years, atl_mean,
           atl_band_years, atl_hi, atl_lo, atl_pct, atl_pct_hi, atl_black,
           [(atl_tail, '#c4c4c4'), (atl_yellow, YELLOW), (atl_orange, ORANGE),
            (atl_green, GREEN), (atl_red, RED), (atl_purple, PURPLE),
            (atl_blue, BLUE)],
           -1.257, 0.0129, 102, False)

draw_panel(fig, rect(RX, 12.7, RW), 'Central Iberian', years, cen_mean,
           years, cen_hi, cen_lo, cen_pct, cen_pct_hi, cen_black,
           [(cen_yellow, YELLOW), (cen_orange, ORANGE), (cen_green, GREEN),
            (cen_red, RED), (cen_blue, BLUE), (cen_purple, PURPLE)],
           -1.257, 0.0118, 114, False)

draw_panel(fig, rect(LX, 229.7, LW), 'Northern Iberian', years, nor_mean,
           years, nor_hi, nor_lo, nor_pct, nor_pct_hi, nor_black,
           [(nor_purple, PURPLE), (nor_navy, NAVY)],
           -1.257, 0.0118, 114, False)

draw_panel(fig, rect(RX, 230.7, RW), 'Southern Iberian', years, sou_mean,
           years, sou_hi, sou_lo, sou_pct, sou_pct_hi, sou_black,
           [(sou_yellow, YELLOW), (sou_orange, ORANGE), (sou_green, GREEN),
            (sou_red, RED), (sou_blue, BLUE), (sou_purple, PURPLE)],
           -1.257, 0.0118, 114, False)

draw_panel(fig, rect(LX, 445.7, LW), 'Eastern Iberian', years, eas_mean,
           years, eas_hi, eas_lo, eas_pct, eas_pct_hi, eas_black,
           [(eas_green, GREEN), (eas_yellow, YELLOW), (eas_orange, ORANGE),
            (eas_blue, BLUE), (eas_purple, PURPLE)],
           -1.41, 0.0118, 114, True)

draw_panel(fig, rect(RX, 449.7, RW), 'Moroccan', years, mor_mean,
           years, mor_hi, mor_lo, mor_pct, mor_pct_hi, mor_black,
           [(mor_blue, BLUE), (mor_purple, PURPLE)],
           -1.21, 0.0118, 114, True)

fig.text(28 / W, 1 - 333 / H, 'Tree-ring width index', rotation=90,
         fontsize=22, ha='center', va='center')
fig.text(1320 / W, 1 - 321 / H, 'Percentage of Trees (%)', rotation=-90,
         fontsize=21, ha='center', va='center')
fig.text(688 / W, 1 - 714 / H, 'Time (years)', fontsize=22,
         ha='center', va='center')

fig.savefig('out.png', dpi=100)
